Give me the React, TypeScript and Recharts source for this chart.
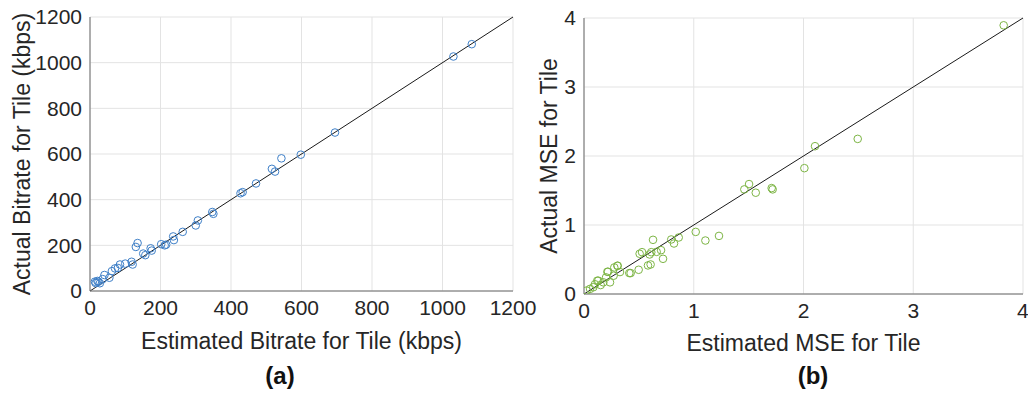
import { CartesianGrid, ReferenceLine, Scatter, ScatterChart, XAxis, YAxis } from 'recharts';

// Tile bitrate: estimated vs measured (kbps)
const bitrateEstimated = [
  1083, 1031, 695, 598, 543, 516, 525, 471, 427, 433, 347, 350, 306, 300, 263, 236, 238, 216, 202, 212,
  135, 130, 172, 175, 151, 157, 118, 121, 100, 85, 79, 71, 62, 41, 55, 36, 24, 16, 21, 28, 14,
];
const bitrateActual = [
  1081, 1027, 694, 597, 581, 535, 523, 471, 428, 433, 346, 338, 309, 287, 259, 239, 223, 203, 205, 200,
  210, 193, 187, 177, 164, 157, 128, 116, 120, 116, 101, 99, 87, 70, 58, 52, 41, 35, 44, 34, 41,
];
const bitrateTicks = [0, 200, 400, 600, 800, 1000, 1200];

// Tile MSE: estimated vs measured
const mseEstimated = [
  3.824, 2.494, 2.105, 2.008, 1.461, 1.504, 1.565, 1.71, 1.719, 1.018, 1.106, 1.23, 0.629, 0.795, 0.82,
  0.863, 0.72, 0.702, 0.662, 0.598, 0.613, 0.507, 0.529, 0.583, 0.607, 0.498, 0.425, 0.413, 0.328, 0.307,
  0.276, 0.27, 0.219, 0.237, 0.201, 0.13, 0.152, 0.085, 0.055, 0.024, 0.1, 0.176, 0.121, 0.213, 0.304,
];
const mseActual = [
  3.894, 2.248, 2.142, 1.824, 1.516, 1.593, 1.468, 1.535, 1.516, 0.9, 0.775, 0.842, 0.785, 0.79, 0.732,
  0.819, 0.51, 0.635, 0.611, 0.573, 0.606, 0.583, 0.606, 0.414, 0.428, 0.351, 0.303, 0.303, 0.318, 0.409,
  0.385, 0.265, 0.322, 0.169, 0.241, 0.193, 0.13, 0.098, 0.074, 0.05, 0.141, 0.169, 0.193, 0.322, 0.409,
];
const mseTicks = [0, 1, 2, 3, 4];

const FONT = '"Liberation Sans", Arial, sans-serif';
const TEXT = '#262626';
const GRID = '#e3e3e3';
const AXIS = '#6a6a6a';
const TICK_SIZE = 21;
const TITLE_SIZE = 23;

const toPoints = (xs: number[], ys: number[]) => xs.map((x, i) => ({ x, y: ys[i] }));

const ring = (color: string) => (props: any) => (
  <circle cx={props.cx} cy={props.cy} r={3.8} fill="none" stroke={color} strokeWidth={1} />
);

const yTitle = (text: string, dx: number) => (props: any) => {
  const vb = props.viewBox;
  const cx = vb.x + dx;
  const cy = vb.y + vb.height / 2;
  return (
    <text
      x={cx}
      y={cy}
      transform={`rotate(-90, ${cx}, ${cy})`}
      textAnchor="middle"
      dominantBaseline="central"
      fontSize={TITLE_SIZE}
      fontFamily={FONT}
      fill={TEXT}
    >
      {text}
    </text>
  );
};

interface PanelProps {
  data: { x: number; y: number }[];
  ticks: number[];
  color: string;
  xTitle: string;
  yLabel: string;
  width: number;
  margin: { top: number; right: number; bottom: number; left: number };
  yAxisWidth: number;
  yTitleDx: number;
  xTitleOffset: number;
}

function Panel(p: PanelProps) {
  const max = p.ticks[p.ticks.length - 1];
  const tickStyle = { fontSize: TICK_SIZE, fontFamily: FONT, fill: TEXT };
  return (
    <ScatterChart width={p.width} height={394} margin={p.margin}>
      <CartesianGrid stroke={GRID} />
      <XAxis
        type="number"
        dataKey="x"
        domain={[0, max]}
        ticks={p.ticks}
        tick={tickStyle}
        tickLine={false}
        tickSize={6}
        tickMargin={3}
        height={30}
        stroke={AXIS}
        allowDataOverflow
        label={{
          value: p.xTitle,
          position: 'bottom',
          offset: p.xTitleOffset,
          style: { fontSize: TITLE_SIZE, fontFamily: FONT, fill: TEXT },
        }}
      />
      <YAxis
        type="number"
        dataKey="y"
        domain={[0, max]}
        ticks={p.ticks}
        tick={tickStyle}
        tickLine={false}
        tickSize={6}
        tickMargin={2}
        width={p.yAxisWidth}
        stroke={AXIS}
        allowDataOverflow
        label={{ content: yTitle(p.yLabel, p.yTitleDx) }}
      />
      <ReferenceLine
        segment={[
          { x: 0, y: 0 },
          { x: max, y: max },
        ]}
        stroke="#1a1a1a"
        strokeWidth={1}
      />
      <Scatter data={p.data} shape={ring(p.color)} isAnimationActive={false} />
    </ScatterChart>
  );
}

const captionStyle = {
  position: 'absolute' as const,
  top: 364,
  width: 60,
  textAlign: 'center' as const,
  fontFamily: FONT,
  fontWeight: 700,
  fontSize: 24,
  lineHeight: '24px',
  color: '#111',
};

export default function App() {
  return (
    <div style={{ position: 'absolute', left: 0, top: 0, width: 1028, height: 394, background: '#fff' }}>
      <div style={{ position: 'absolute', left: 0, top: 0 }}>
        <Panel
          data={toPoints(bitrateEstimated, bitrateActual)}
          ticks={bitrateTicks}
          color="#3f80c8"
          xTitle="Estimated Bitrate for Tile (kbps)"
          yLabel="Actual Bitrate for Tile (kbps)"
          width={550}
          margin={{ top: 17, right: 37, bottom: 73, left: 10 }}
          yAxisWidth={80}
          yTitleDx={12}
          xTitleOffset={12}
        />
      </div>
      <div style={{ position: 'absolute', left: 520, top: 0 }}>
        <Panel
          data={toPoints(mseEstimated, mseActual)}
          ticks={mseTicks}
          color="#7db545"
          xTitle="Estimated MSE for Tile"
          yLabel="Actual MSE for Tile"
          width={508}
          margin={{ top: 18, right: 5, bottom: 70, left: 14 }}
          yAxisWidth={50}
          yTitleDx={15}
          xTitleOffset={11}
        />
      </div>
      <div style={{ ...captionStyle, left: 250 }}>(a)</div>
      <div style={{ ...captionStyle, left: 783 }}>(b)</div>
    </div>
  );
}
